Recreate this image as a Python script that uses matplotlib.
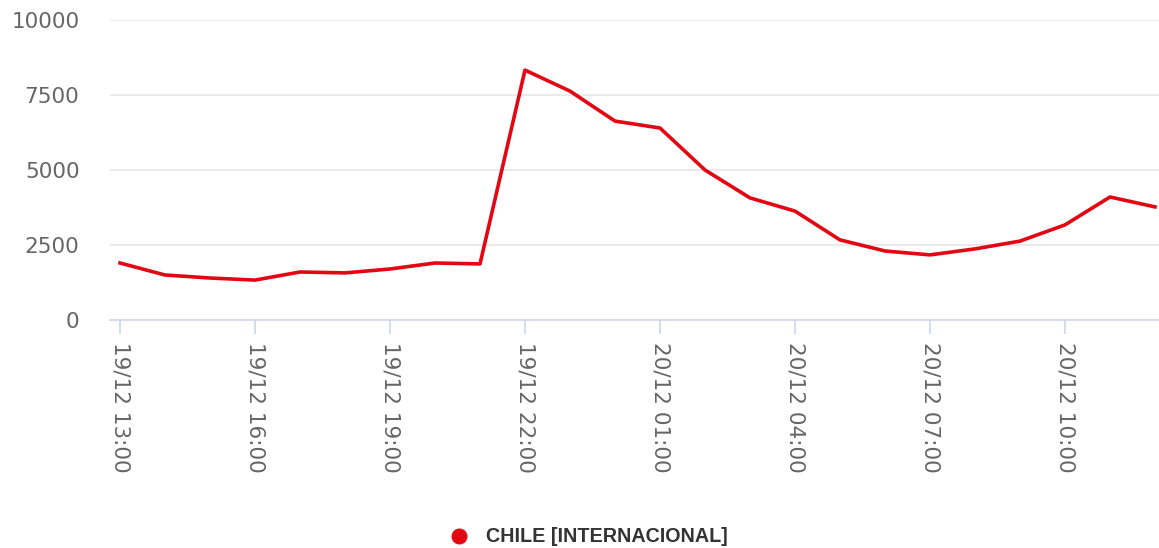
import matplotlib
matplotlib.use("Agg")
import matplotlib.pyplot as plt
from matplotlib.lines import Line2D
import numpy as np

# hourly values, 19/12 13:00 -> 20/12 12:00
hours = ["19/12 13:00", "19/12 14:00", "19/12 15:00", "19/12 16:00", "19/12 17:00",
         "19/12 18:00", "19/12 19:00", "19/12 20:00", "19/12 21:00", "19/12 22:00",
         "19/12 23:00", "20/12 00:00", "20/12 01:00", "20/12 02:00", "20/12 03:00",
         "20/12 04:00", "20/12 05:00", "20/12 06:00", "20/12 07:00", "20/12 08:00",
         "20/12 09:00", "20/12 10:00", "20/12 11:00", "20/12 12:00"]
values = [1900, 1500, 1400, 1330, 1600, 1570, 1700, 1900, 1870, 8330,
          7630, 6630, 6400, 5000, 4070, 3630, 2670, 2300, 2170, 2370,
          2630, 3170, 4100, 3770]
series_name = "CHILE [INTERNACIONAL]"
y_ticks = [0, 2500, 5000, 7500, 10000]

plt.rcParams["font.family"] = ["DejaVu Sans"]

fig = plt.figure(figsize=(11.59, 5.48), dpi=100)
ax = fig.add_axes([110 / 1159, 1 - 320 / 548, 1 - 110 / 1159, 300 / 548])

x = np.arange(len(values))
ax.plot(x, values, color="#e30613", lw=2.6, clip_on=False, zorder=3)

ax.set_xlim(-10 / 45, len(values) - 1 + 4 / 45)
ax.set_ylim(0, 10000)
ax.set_yticks(y_ticks)
ax.set_yticklabels([str(v) for v in y_ticks])
ax.set_xticks(x[::3])
ax.set_xticklabels(hours[::3], rotation=-90)

for s in ["top", "right", "left"]:
    ax.spines[s].set_visible(False)
ax.spines["bottom"].set_color("#ccd6eb")
ax.spines["bottom"].set_linewidth(1.2)

ax.grid(axis="y", color="#e6e6e6", lw=1.2)
ax.set_axisbelow(True)
ax.tick_params(axis="y", length=0, pad=22, labelsize=15.5, labelcolor="#666666")
ax.tick_params(axis="x", length=10, width=1.2, color="#ccd6eb", pad=6,
               labelsize=15.5, labelcolor="#666666")
for lab in ax.get_xticklabels():
    lab.set_verticalalignment("top")
    lab.set_horizontalalignment("center")

# legend
fig.add_artist(Line2D([459 / 1159], [1 - 536 / 548], transform=fig.transFigure,
                      marker="o", markersize=10.5, color="#e30613", lw=0))
fig.text(486 / 1159, 1 - 536 / 548, series_name, family="Liberation Sans",
         weight="bold", fontsize=14.2, color="#333333", va="center", ha="left")

fig.savefig("out.png", dpi=100)
